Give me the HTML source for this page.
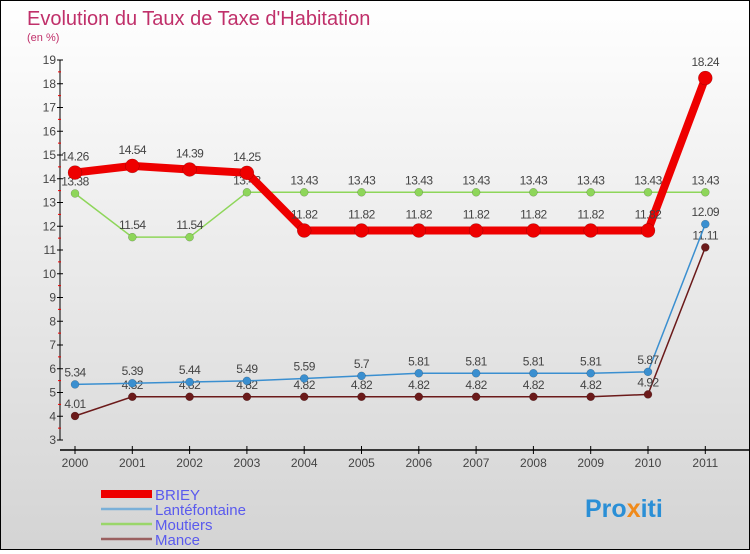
<!DOCTYPE html>
<html><head><meta charset="utf-8"><style>
html,body{margin:0;padding:0}
body{width:750px;height:550px;overflow:hidden;font-family:"Liberation Sans",sans-serif}
#wrap{position:relative;width:748px;height:548px;border:1px solid #000;background:linear-gradient(#ffffff,#d4d4d4)}
</style></head><body>
<div id="wrap">
<svg id="chart" width="748" height="548" xmlns="http://www.w3.org/2000/svg">
<text x="26" y="24" font-size="20" fill="#c0306a">Evolution du Taux de Taxe d'Habitation</text>
<text x="26" y="40" font-size="11" fill="#c0306a">(en %)</text>
<g id="axes"></g><g id="series"></g><g id="legend"></g>
<text x="584" y="516" font-size="25" font-weight="bold" fill="#2a8fd6">Pro<tspan fill="#f08a1a">x</tspan>iti</text>
</svg>
</div>
<script>
const years=["2000","2001","2002","2003","2004","2005","2006","2007","2008","2009","2010","2011"];
const briey=[14.26,14.54,14.39,14.25,11.82,11.82,11.82,11.82,11.82,11.82,11.82,18.24];
const lante=[5.34,5.39,5.44,5.49,5.59,5.7,5.81,5.81,5.81,5.81,5.87,12.09];
const moutiers=[13.38,11.54,11.54,13.43,13.43,13.43,13.43,13.43,13.43,13.43,13.43,13.43];
const mance=[4.01,4.82,4.82,4.82,4.82,4.82,4.82,4.82,4.82,4.82,4.92,11.11];
const yTicks=[3,4,5,6,7,8,9,10,11,12,13,14,15,16,17,18,19];
const NS="http://www.w3.org/2000/svg";
const X=i=>74+i*57.3;
const Y=v=>439-(v-3)*23.75;
function mk(t,a,p){const e=document.createElementNS(NS,t);for(const k in a)e.setAttribute(k,a[k]);p.appendChild(e);return e;}
const ax=document.getElementById('axes');
let l=mk('line',{x1:59,y1:Y(19),x2:59,y2:Y(3),stroke:'#000'},ax);

l=mk('line',{x1:59,y1:449,x2:748,y2:449,stroke:'#000','stroke-width':1.5},ax);

yTicks.forEach((v,i)=>{
 mk('line',{x1:56,y1:Y(v),x2:62,y2:Y(v),stroke:'#000'},ax);
 if(i<yTicks.length-1)mk('line',{x1:57,y1:Y(v+0.5),x2:60,y2:Y(v+0.5),stroke:'#e00'},ax);
 const t=mk('text',{x:55,y:Y(v)+4,'text-anchor':'end','font-size':12,fill:'#444'},ax);t.textContent=v;
 
});
years.forEach((y,i)=>{
 mk('line',{x1:X(i),y1:445,x2:X(i),y2:453,stroke:'#000'},ax);
 const t=mk('text',{x:X(i),y:466,'text-anchor':'middle','font-size':12,fill:'#444'},ax);t.textContent=y;
 
});
const sg=document.getElementById('series');
function series(d,color,w,r,name,labelDy){
 const g=mk('g',{},sg);
 
 const p=mk('polyline',{points:d.map((v,i)=>X(i)+','+Y(v)).join(' '),fill:'none',stroke:color,'stroke-width':w,'stroke-linejoin':'round'},g);
 
 d.forEach((v,i)=>{
  const c=mk('circle',{cx:X(i),cy:Y(v),r:r,fill:color,stroke:'rgba(0,0,0,0.3)','stroke-width':0.5},g);
  
  const t=mk('text',{x:X(i),y:Y(v)+labelDy,'text-anchor':'middle','font-size':12,fill:'#444','letter-spacing':'-0.5'},g);
  t.textContent=String(v);
  
 });
}
series(mance,'#6b1a1a',1.5,4,'mance',-8);
series(lante,'#3a8fd0',1.5,4,'lantefontaine',-8);
series(moutiers,'#8ed65a',1.5,4,'moutiers',-8);
series(briey,'#ee0000',8,7,'briey',-12);
const lg=document.getElementById('legend');
[["BRIEY","#ee0000",8],["Lantéfontaine","#7ab0d8",2.5],["Moutiers","#9ad66a",2.5],["Mance","#9a6060",2.5]].forEach((e,i)=>{
 const yy=493+i*15;
 const g=mk('g',{},lg);
 
 mk('line',{x1:100,y1:yy,x2:151,y2:yy,stroke:e[1],'stroke-width':e[2]},g);
 const t=mk('text',{x:154,y:yy+6,'font-size':15,fill:'#5a5aee'},g);t.textContent=e[0];
});
</script>
</body></html>
